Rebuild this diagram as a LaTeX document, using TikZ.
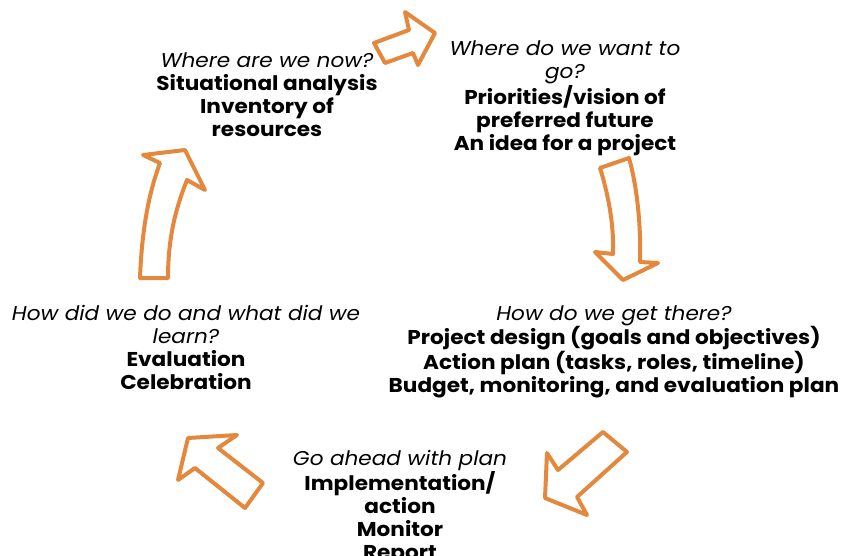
\documentclass[tikz,border=0pt]{standalone}
\usepackage{fontspec}
\setmainfont{Poppins}[FakeStretch=1.08]
\definecolor{arrorange}{HTML}{E3883C}
\tikzset{
  blockarrow/.style={draw=arrorange, line width=4pt, line join=round, fill=white},
  lbl/.style={align=center, inner sep=0pt, font=\fontsize{20}{23}\selectfont, anchor=north}
}
\begin{document}
\begin{tikzpicture}[x=1pt,y=-1pt]
\useasboundingbox (0,0) rectangle (843,556);
\clip (0,0) rectangle (843,556);
% arrows
\draw[blockarrow] (374,43) -- (409,30) -- (405,12) -- (435,33) -- (418,65) -- (413,53) -- (385,63) -- cycle;
\draw[blockarrow] (600,168) -- (629,158) .. controls (638,190) and (641,230) .. (640,262) -- (658,263) -- (623,280) -- (595,252) -- (613,254) .. controls (614,230) and (610,200) .. (600,168) -- cycle;
\draw[blockarrow] (603,432) -- (558,470) -- (547,453) -- (545,498) -- (587,515) -- (577,497) -- (627,452) -- cycle;
\draw[blockarrow] (263,483) -- (218,448) -- (237,435) -- (188,438) -- (178,480) -- (195,468) -- (245,508) -- cycle;
\draw[blockarrow] (140,278) .. controls (142,225) and (150,190) .. (160,163) -- (143,155) -- (185,150) -- (205,190) -- (187,180) .. controls (177,205) and (168,235) .. (168,278) -- cycle;
% texts
\node[lbl] (now) at (267,53) {\textit{Where are we now?}\\\textbf{Situational analysis}\\\textbf{Inventory of}\\\textbf{resources}};
\node[lbl] (want) at (565,41) {\textit{Where do we want to}\\\textit{go?}\\\textbf{Priorities/vision of}\\\textbf{preferred future}\\\textbf{An idea for a project}};
\node[lbl] (get) at (614,305) {\textit{How do we get there?}\\\textbf{Project design (goals and objectives)}\\\textbf{Action plan (tasks, roles, timeline)}\\\textbf{Budget, monitoring, and evaluation plan}};
\node[lbl] (ahead) at (400,450) {\textit{Go ahead with plan}\\\textbf{Implementation/}\\\textbf{action}\\\textbf{Monitor}\\\textbf{Report}};
\node[lbl] (learn) at (186,305) {\textit{How did we do and what did we}\\\textit{learn?}\\\textbf{Evaluation}\\\textbf{Celebration}};
\end{tikzpicture}
\end{document}
